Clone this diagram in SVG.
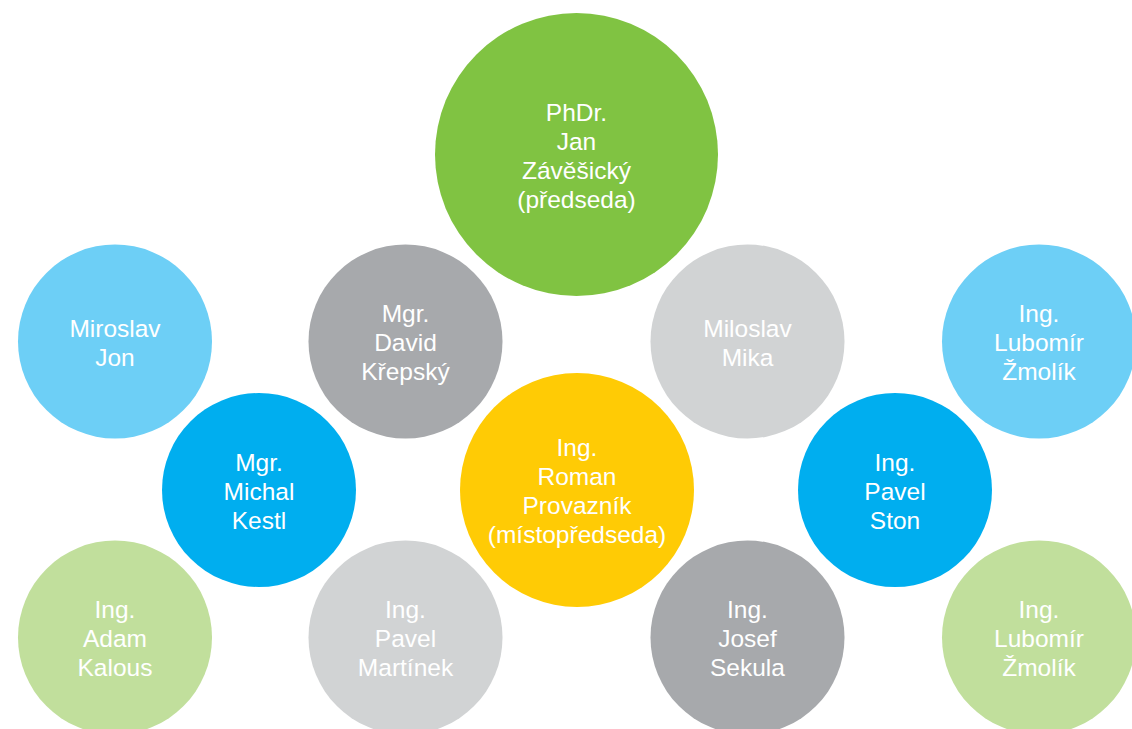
<svg xmlns="http://www.w3.org/2000/svg" width="1132" height="729" viewBox="0 0 1132 729">
<style>
text{font-family:"Liberation Sans",Arial,Helvetica,sans-serif;font-size:24.5px;fill:#ffffff;text-anchor:middle}
.green{fill:#80c342}.lblue{fill:#6dcff6}.dgray{fill:#a7a9ac}.lgray{fill:#d1d3d4}.blue{fill:#00aeef}.yellow{fill:#ffcb05}.lgreen{fill:#c1df9c}
</style>
<rect width="1132" height="729" fill="#ffffff"/>
<g id="connectors"/>
<g id="n-zavesicky"><circle class="green" cx="576.5" cy="154.5" r="141.5"/><text x="576.5" y="121">PhDr.</text><text x="576.5" y="150">Jan</text><text x="576.5" y="179">Závěšický</text><text x="576.5" y="208">(předseda)</text></g>
<g id="n-jon"><circle class="lblue" cx="115" cy="341.5" r="97"/><text x="115" y="337">Miroslav</text><text x="115" y="366">Jon</text></g>
<g id="n-krepsky"><circle class="dgray" cx="405.5" cy="341.5" r="97"/><text x="405.5" y="322">Mgr.</text><text x="405.5" y="351">David</text><text x="405.5" y="380">Křepský</text></g>
<g id="n-mika"><circle class="lgray" cx="747.5" cy="341.5" r="97"/><text x="747.5" y="337">Miloslav</text><text x="747.5" y="366">Mika</text></g>
<g id="n-zmolik1"><circle class="lblue" cx="1039" cy="341.5" r="97"/><text x="1039" y="322">Ing.</text><text x="1039" y="351">Lubomír</text><text x="1039" y="380">Žmolík</text></g>
<g id="n-kestl"><circle class="blue" cx="259" cy="490" r="97"/><text x="259" y="471">Mgr.</text><text x="259" y="500">Michal</text><text x="259" y="529">Kestl</text></g>
<g id="n-provaznik"><circle class="yellow" cx="577" cy="490" r="117"/><text x="577" y="456">Ing.</text><text x="577" y="485">Roman</text><text x="577" y="514">Provazník</text><text x="577" y="543">(místopředseda)</text></g>
<g id="n-ston"><circle class="blue" cx="895" cy="490" r="97"/><text x="895" y="471">Ing.</text><text x="895" y="500">Pavel</text><text x="895" y="529">Ston</text></g>
<g id="n-kalous"><circle class="lgreen" cx="115" cy="637.5" r="97"/><text x="115" y="618">Ing.</text><text x="115" y="647">Adam</text><text x="115" y="676">Kalous</text></g>
<g id="n-martinek"><circle class="lgray" cx="405.5" cy="637.5" r="97"/><text x="405.5" y="618">Ing.</text><text x="405.5" y="647">Pavel</text><text x="405.5" y="676">Martínek</text></g>
<g id="n-sekula"><circle class="dgray" cx="747.5" cy="637.5" r="97"/><text x="747.5" y="618">Ing.</text><text x="747.5" y="647">Josef</text><text x="747.5" y="676">Sekula</text></g>
<g id="n-zmolik2"><circle class="lgreen" cx="1039" cy="637.5" r="97"/><text x="1039" y="618">Ing.</text><text x="1039" y="647">Lubomír</text><text x="1039" y="676">Žmolík</text></g>
</svg>
